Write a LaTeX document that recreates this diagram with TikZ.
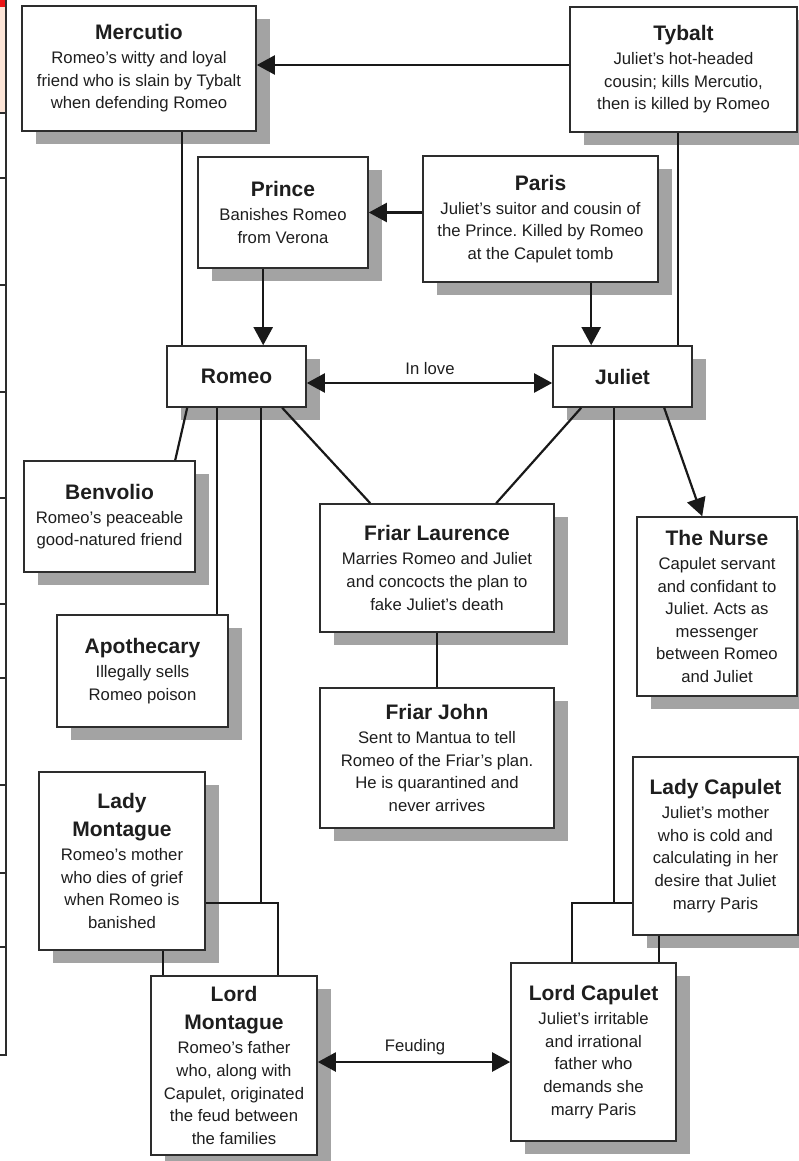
\documentclass[tikz,border=0pt]{standalone}
\usepackage{fontspec}
\setmainfont{Liberation Sans}
\usetikzlibrary{arrows.meta,shadows,calc}
\definecolor{shad}{RGB}{163,163,163}
\definecolor{txt}{RGB}{30,30,30}
\definecolor{bord}{RGB}{45,45,45}
\definecolor{peach}{RGB}{252,228,214}
\definecolor{redc}{RGB}{235,20,20}
\newcommand\ttl[1]{{\fontsize{21}{26}\selectfont\bfseries #1}}
\frenchspacing
\begin{document}
\begin{tikzpicture}[x=1pt,y=-1pt,
 box/.style={draw=bord, line width=1.6pt, fill=white, inner sep=0pt, align=center, text=txt,
   font=\fontsize{16.7}{22.6}\selectfont,
   drop shadow={shadow xshift=14pt, shadow yshift=-13pt, fill=shad, opacity=1}},
 conn/.style={line width=2.2pt, draw=black!90},
 tip/.tip={Triangle[length=18pt,width=19pt]},
 arr/.style={conn, -tip},
 darr/.style={conn, tip-tip},
 lab/.style={font=\fontsize{16.7}{20}\selectfont, text=txt, inner sep=0pt}]
\useasboundingbox (0,0) rectangle (799,1161);
% left strip
\fill[redc] (0,0) rectangle (6,7);
\fill[peach] (0,7) rectangle (6,113);
\draw[bord, line width=1.2pt] (6,0) -- (6,1055) -- (0,1055);
\foreach \yy in {113,178,285,392,498,604,678,785,873,947} \draw[bord,line width=1.2pt] (0,\yy) -- (6,\yy);
% boxes
\node[box, minimum width=234pt, minimum height=125pt] (mercutio) at (139,68.5)
 {\ttl{Mercutio}\\[1.4pt] Romeo’s witty and loyal\\ friend who is slain by Tybalt\\ when defending Romeo};
\node[box, minimum width=227pt, minimum height=125pt] (tybalt) at (683.5,69.5)
 {\ttl{Tybalt}\\[1.4pt] Juliet’s hot-headed\\ cousin; kills Mercutio,\\ then is killed by Romeo};
\node[box, minimum width=170pt, minimum height=111pt] (prince) at (283,212.5)
 {\ttl{Prince}\\[1.4pt] Banishes Romeo\\ from Verona};
\node[box, minimum width=235pt, minimum height=126pt] (paris) at (540.5,219)
 {\ttl{Paris}\\[1.4pt] Juliet’s suitor and cousin of\\ the Prince. Killed by Romeo\\ at the Capulet tomb};
\node[box, minimum width=139pt, minimum height=61pt] (romeo) at (236.5,376.5) {\ttl{Romeo}};
\node[box, minimum width=139pt, minimum height=61pt] (juliet) at (622.5,376.5) {\ttl{Juliet}};
\node[box, minimum width=171pt, minimum height=111pt] (benvolio) at (109.5,516.5)
 {\ttl{Benvolio}\\[1.4pt] Romeo’s peaceable\\ good-natured friend};
\node[box, minimum width=234pt, minimum height=128pt] (laurence) at (437,568)
 {\ttl{Friar Laurence}\\[1.4pt] Marries Romeo and Juliet\\ and concocts the plan to\\ fake Juliet’s death};
\node[box, minimum width=160pt, minimum height=179pt] (nurse) at (717,606.5)
 {\ttl{The Nurse}\\[1.4pt] Capulet servant\\ and confidant to\\ Juliet. Acts as\\ messenger\\ between Romeo\\ and Juliet};
\node[box, minimum width=171pt, minimum height=112pt] (apothecary) at (142.5,671)
 {\ttl{Apothecary}\\[1.4pt] Illegally sells\\ Romeo poison};
\node[box, minimum width=234pt, minimum height=140pt] (john) at (437,758)
 {\ttl{Friar John}\\[1.4pt] Sent to Mantua to tell\\ Romeo of the Friar’s plan.\\ He is quarantined and\\ never arrives};
\node[box, minimum width=166pt, minimum height=178pt] (ladym) at (122,861)
 {\ttl{Lady}\\[5.4pt] \ttl{Montague}\\[1.4pt] Romeo’s mother\\ who dies of grief\\ when Romeo is\\ banished};
\node[box, minimum width=165pt, minimum height=178pt] (ladyc) at (715.5,846)
 {\ttl{Lady Capulet}\\[1.4pt] Juliet’s mother\\ who is cold and\\ calculating in her\\ desire that Juliet\\ marry Paris};
\node[box, minimum width=166pt, minimum height=179pt] (lordm) at (234,1065.5)
 {\ttl{Lord}\\[5.4pt] \ttl{Montague}\\[1.4pt] Romeo’s father\\ who, along with\\ Capulet, originated\\ the feud between\\ the families};
\node[box, minimum width=165pt, minimum height=178pt] (lordc) at (593.5,1052)
 {\ttl{Lord Capulet}\\[1.4pt] Juliet’s irritable\\ and irrational\\ father who\\ demands she\\ marry Paris};
% connectors
\coordinate (c1) at ($(tybalt.west)+(0,-4.5)$);
\draw[arr] (c1) -- (c1 -| mercutio.east);
\draw[arr] (paris.west |- prince.east) -- (prince.east);
\coordinate (c2) at ($(romeo.north west)+(16,0)$);
\draw[conn] (c2 |- mercutio.south) -- (c2);
\coordinate (c3) at ($(romeo.north west)+(97,0)$);
\draw[arr] (c3 |- prince.south) -- (c3);
\coordinate (c4) at ($(juliet.north west)+(126,0)$);
\draw[conn] (c4 |- tybalt.south) -- (c4);
\coordinate (c5) at ($(juliet.north west)+(39,0)$);
\draw[arr] (c5 |- paris.south) -- (c5);
\coordinate (c6) at ($(romeo.east)+(0,6.5)$);
\draw[darr] (c6) -- (c6 -| juliet.west);
\node[lab] (inlove) at (430,369) {In love};
\coordinate (c7) at ($(romeo.south west)+(21,0)$);
\coordinate (c8) at ($(benvolio.north west)+(152,0)$);
\draw[conn] (c7) -- (c8);
\coordinate (c9) at ($(romeo.south west)+(51,0)$);
\draw[conn] (c9) -- (c9 |- apothecary.north);
\coordinate (mm) at ($(ladym.east)+(0,42)$);
\coordinate (c10) at ($(romeo.south west)+(95,0)$);
\draw[conn] (c10) -- (c10 |- mm);
\coordinate (c11) at ($(lordm.north west)+(128,0)$);
\draw[conn] (mm) -| (c11);
\coordinate (c12) at ($(lordm.north west)+(13,0)$);
\draw[conn] (c12 |- ladym.south) -- (c12);
\coordinate (c13) at ($(romeo.south west)+(116,0)$);
\coordinate (c14) at ($(laurence.north west)+(51,0)$);
\draw[conn] (c13) -- (c14);
\coordinate (c15) at ($(juliet.south west)+(29,0)$);
\coordinate (c16) at ($(laurence.north west)+(177,0)$);
\draw[conn] (c15) -- (c16);
\coordinate (c17) at ($(juliet.south west)+(112,0)$);
\coordinate (c18) at ($(nurse.north west)+(66,0)$);
\draw[arr] (c17) -- (c18);
\coordinate (cm) at ($(ladyc.west)+(0,57)$);
\coordinate (c19) at ($(juliet.south west)+(62,0)$);
\draw[conn] (c19) -- (c19 |- cm);
\coordinate (c20) at ($(lordc.north west)+(62,0)$);
\draw[conn] (cm) -| (c20);
\coordinate (c21) at ($(lordc.north west)+(149,0)$);
\draw[conn] (c21 |- ladyc.south) -- (c21);
\draw[conn] (laurence.south) -- (john.north);
\coordinate (c22) at ($(lordm.east)+(0,-3.5)$);
\draw[darr] (c22) -- (c22 -| lordc.west);
\node[lab] (feud) at (415,1047) {Feuding};
\end{tikzpicture}
\end{document}
